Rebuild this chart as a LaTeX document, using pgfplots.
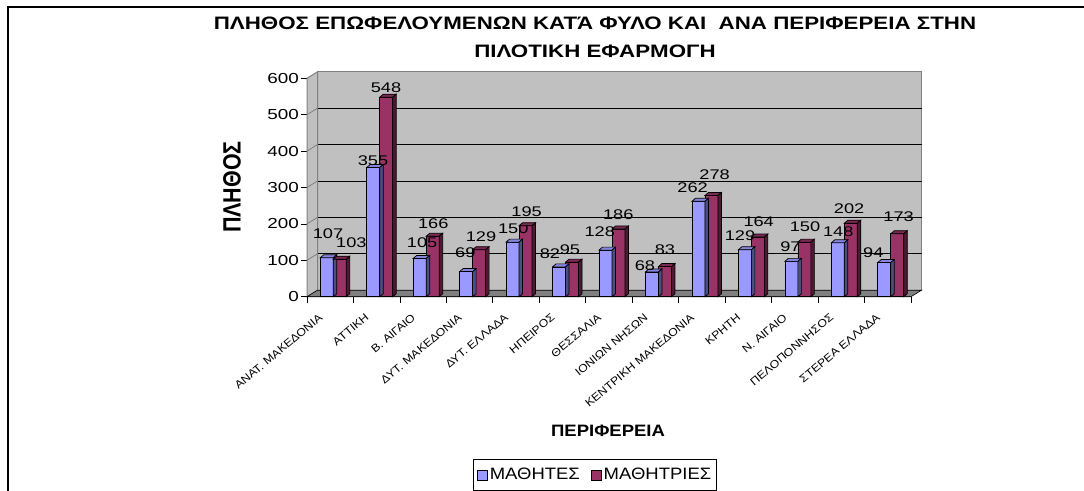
\documentclass[border=0pt]{standalone}
\usepackage{fontspec}
\setmainfont{Liberation Sans}
\newfontfamily\ftitle{Liberation Sans}[FakeStretch=1.24]
\newfontfamily\fwide{Liberation Sans}[FakeStretch=1.3]
\newfontfamily\fmid{Liberation Sans}[FakeStretch=1.12]
\newfontfamily\ftick{Liberation Sans}[FakeStretch=1.12]
\newfontfamily\fylab{Liberation Sans}[FakeStretch=0.86]
\usepackage{pgfplots}
\usepackage{pgfplotstable}
\pgfplotsset{compat=1.18}
\definecolor{cblue}{HTML}{9999FF}
\definecolor{cblueside}{HTML}{4D4D80}
\definecolor{cbluetop}{HTML}{8585E0}
\definecolor{cred}{HTML}{993366}
\definecolor{credside}{HTML}{4D1A33}
\definecolor{credtop}{HTML}{7A2952}
\definecolor{wallc}{HTML}{C0C0C0}
\definecolor{floorc}{HTML}{808080}

% x, value, label dx, label dy (pt)
\pgfplotstableread{
x b bdx bdy
0 107 -2.2 19.5
1 355 -3.7 1.5
2 105 -1.0 11.2
3 69 -4.3 14.3
4 150 -2.8 8.8
5 82 -12.6 8.6
6 128 -9.3 13.4
7 68 -10.5 1.9
8 262 -9.3 8.6
9 129 -8.4 9.7
10 97 -4.4 9.7
11 148 -3.1 6.1
12 94 -14.5 5.2
}\dataA
\pgfplotstableread{
x g gdx gdy
0 103 21.1 12.1
1 548 9.3 4.9
2 166 10.1 8.0
3 129 11.4 8.0
4 195 10.6 9.0
5 95 7.4 8.1
6 186 9.3 9.7
7 83 9.5 11.5
8 278 12.7 16.5
9 164 10.3 10.3
10 150 10.1 10.4
11 202 7.8 9.2
12 173 10.9 12.0
}\dataB

\newcommand\barmark[3]{%
 \pgfmathsetmacro\hh{\rawy*0.364}%
 \pgfsetlinewidth{0.7pt}\pgfsetstrokecolor{black}%
 \pgfsetfillcolor{#2}%
 \pgfpathmoveto{\pgfpoint{#1pt-6.5pt}{0pt}}%
 \pgfpathlineto{\pgfpoint{#1pt+6.5pt}{0pt}}%
 \pgfpathlineto{\pgfpoint{#1pt+10pt}{3pt}}%
 \pgfpathlineto{\pgfpoint{#1pt-3pt}{3pt}}%
 \pgfpathclose\pgfusepath{fill,stroke}%
 \pgfsetfillcolor{#3}%
 \pgfpathmoveto{\pgfpoint{#1pt+6.5pt}{0pt}}%
 \pgfpathlineto{\pgfpoint{#1pt+10pt}{3pt}}%
 \pgfpathlineto{\pgfpoint{#1pt+10pt}{3pt-\hh pt}}%
 \pgfpathlineto{\pgfpoint{#1pt+6.5pt}{-\hh pt}}%
 \pgfpathclose\pgfusepath{fill,stroke}%
}
\pgfdeclareplotmark{barA}{\barmark{-3.5}{cbluetop}{cblueside}}
\pgfdeclareplotmark{barB}{\barmark{9.5}{credtop}{credside}}

\begin{document}
\begin{tikzpicture}[x=1pt,y=1pt]
\useasboundingbox (0,0) rectangle (1084,490);
\draw[line width=2pt] (7.5,-20) -- (7.5,483.3) -- (1100,483.3);
\node[font=\ftitle\bfseries\fontsize{18}{20}\selectfont, anchor=base] at (595,460.5) {ΠΛΗΘΟΣ ΕΠΩΦΕΛΟΥΜΕΝΩΝ ΚΑΤΆ ΦΥΛΟ ΚΑΙ \ ΑΝΑ ΠΕΡΙΦΕΡΕΙΑ ΣΤΗΝ};
\node[font=\ftitle\bfseries\fontsize{18}{20}\selectfont, anchor=base] at (595,432.5) {ΠΙΛΟΤΙΚΗ ΕΦΑΡΜΟΓΗ};
\node[rotate=90, font=\fylab\bfseries\fontsize{25}{28}\selectfont] at (232,303) {ΠΛΗΘΟΣ};
\node[font=\fmid\bfseries\fontsize{16.5}{19}\selectfont] at (608,59) {ΠΕΡΙΦΕΡΕΙΑ};
\begin{axis}[
  at={(307pt,193.3pt)}, anchor=south west,
  scale only axis, width=604pt, height=218.4pt,
  xmin=-0.5, xmax=12.5, ymin=0, ymax=600,
  clip=false,
  axis x line*=bottom, axis y line*=left,
  axis line style={black, line width=1pt},
  tick align=outside,
  tick style={black, line width=0.8pt},
  major tick length=6pt,
  ytick={0,100,...,600},
  yticklabel style={font=\fwide\fontsize{14.5}{16}\selectfont, inner sep=2pt},
  /pgf/number format/assume math mode=true,
  xtick={-0.5,0.5,...,12.5},
  xticklabels={},
  extra x ticks={0,1,...,12},
  extra x tick labels={ΑΝΑΤ. ΜΑΚΕΔΟΝΙΑ,ΑΤΤΙΚΗ,Β. ΑΙΓΑΙΟ,ΔΥΤ. ΜΑΚΕΔΟΝΙΑ,ΔΥΤ. ΕΛΛΑΔΑ,ΗΠΕΙΡΟΣ,ΘΕΣΣΑΛΙΑ,ΙΟΝΙΩΝ ΝΗΣΩΝ,ΚΕΝΤΡΙΚΗ ΜΑΚΕΔΟΝΙΑ,ΚΡΗΤΗ,Ν. ΑΙΓΑΙΟ,ΠΕΛΟΠΟΝΝΗΣΟΣ,ΣΤΕΡΕΑ ΕΛΛΑΔΑ},
  extra x tick style={major tick length=0pt},
  xticklabel style={xshift=-12pt, yshift=-16pt, rotate=40, anchor=north east, font=\ftick\fontsize{11}{12}\selectfont, inner sep=0pt},
  legend style={at={(0.477,-0.743)}, anchor=north, legend columns=2, draw=black, line width=1pt,
    font=\fmid\fontsize{16.5}{19}\selectfont, inner xsep=3pt, inner ysep=7pt,
    /tikz/every even column/.append style={column sep=9pt}},
]
% walls
\fill[wallc, draw=floorc, line width=1pt] ([shift={(10.5pt,6.5pt)}]axis cs:-0.5,0) rectangle ([shift={(10.5pt,6.5pt)}]axis cs:12.5,600);
\fill[wallc, draw=floorc, line width=1pt] (axis cs:-0.5,0) -- ([shift={(10.5pt,6.5pt)}]axis cs:-0.5,0) -- ([shift={(10.5pt,6.5pt)}]axis cs:-0.5,600) -- (axis cs:-0.5,600) -- cycle;
\pgfplotsinvokeforeach{100,200,300,400,500}{
  \draw[black, line width=1pt] ([shift={(10.5pt,6.5pt)}]axis cs:-0.5,#1) -- ([shift={(10.5pt,6.5pt)}]axis cs:12.5,#1);
  \draw[floorc, line width=0.8pt] (axis cs:-0.5,#1) -- ([shift={(10.5pt,6.5pt)}]axis cs:-0.5,#1);
}
\fill[floorc, draw=black, line width=0.6pt] (axis cs:-0.5,0) -- (axis cs:12.5,0) -- ([shift={(10.5pt,6.5pt)}]axis cs:12.5,0) -- ([shift={(10.5pt,6.5pt)}]axis cs:-0.5,0) -- cycle;

\addplot[ybar, bar width=13pt, bar shift=-3.5pt, fill=cblue, draw=black, line width=0.7pt,
  legend image code/.code={\draw[fill=cblue, draw=black, line width=0.8pt] (0pt,-5pt) rectangle (10pt,5pt);}]
  table[x=x, y=b] {\dataA};
\addlegendentry{ΜΑΘΗΤΕΣ}
\addplot[forget plot, scatter, only marks, mark=barA, point meta=y,
  scatter/use mapped color={draw=black, fill=black},
  visualization depends on={rawy \as \rawy},
  visualization depends on={\thisrow{bdx} \as \ldx},
  visualization depends on={\thisrow{bdy} \as \ldy},
  nodes near coords, nodes near coords style={font=\fwide\fontsize{14}{15}\selectfont, text=black, anchor=base, inner sep=0pt, xshift=\ldx pt, yshift=\ldy pt}]
  table[x=x, y=b] {\dataA};
\addplot[ybar, bar width=13pt, bar shift=9.5pt, fill=cred, draw=black, line width=0.7pt,
  legend image code/.code={\draw[fill=cred, draw=black, line width=0.8pt] (0pt,-5pt) rectangle (10pt,5pt);}]
  table[x=x, y=g] {\dataB};
\addlegendentry{ΜΑΘΗΤΡΙΕΣ}
\addplot[forget plot, scatter, only marks, mark=barB, point meta=y,
  scatter/use mapped color={draw=black, fill=black},
  visualization depends on={rawy \as \rawy},
  visualization depends on={\thisrow{gdx} \as \ldx},
  visualization depends on={\thisrow{gdy} \as \ldy},
  nodes near coords, nodes near coords style={font=\fwide\fontsize{14}{15}\selectfont, text=black, anchor=base, inner sep=0pt, xshift=\ldx pt, yshift=\ldy pt}]
  table[x=x, y=g] {\dataB};
\end{axis}
\end{tikzpicture}
\end{document}
